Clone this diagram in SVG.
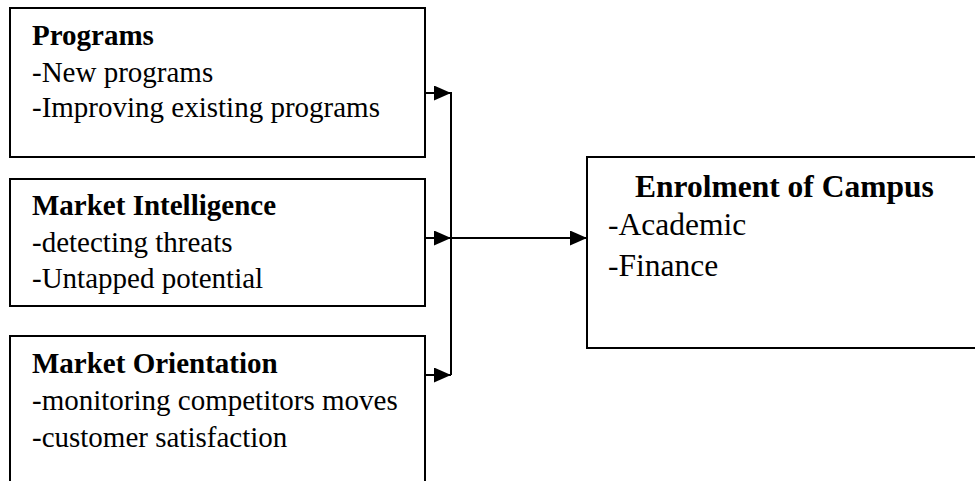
<svg xmlns="http://www.w3.org/2000/svg" width="975" height="481" viewBox="0 0 975 481">
<style>
.box{fill:#fff;stroke:#000;stroke-width:2}
.t{font-family:"Liberation Serif","Times New Roman",serif;font-size:29px;fill:#000}
.b{font-weight:bold}
.r{font-size:31.5px}
.c{fill:none;stroke:#000;stroke-width:2}
</style>
<defs>
<marker id="ah" markerUnits="userSpaceOnUse" markerWidth="17" markerHeight="15" refX="17" refY="7.5" orient="auto" viewBox="0 0 17 15">
<path d="M0,0 L17,7.5 L0,15 z" fill="#000"/>
</marker>
</defs>
<rect width="975" height="481" fill="#fff"/>
<g id="programs">
<rect class="box" x="10" y="8" width="415" height="149"/>
<text class="t b" x="32" y="45">Programs</text>
<text class="t" x="32" y="82">-New programs</text>
<text class="t" x="32" y="117">-Improving existing programs</text>
</g>
<g id="market-intelligence">
<rect class="box" x="10" y="179" width="415" height="127"/>
<text class="t b" x="32" y="215">Market Intelligence</text>
<text class="t" x="32" y="252">-detecting threats</text>
<text class="t" x="32" y="288">-Untapped potential</text>
</g>
<g id="market-orientation">
<rect class="box" x="10" y="336" width="415" height="160"/>
<text class="t b" x="32" y="373">Market Orientation</text>
<text class="t" x="32" y="410">-monitoring competitors moves</text>
<text class="t" x="32" y="447">-customer satisfaction</text>
</g>
<g id="enrolment">
<rect class="box" x="587" y="157" width="400" height="191"/>
<text class="t b r" x="635" y="197">Enrolment of Campus</text>
<text class="t r" x="608" y="235">-Academic</text>
<text class="t r" x="608" y="276">-Finance</text>
</g>
<g id="connectors">
<line class="c" x1="451" y1="92" x2="451" y2="375"/>
<line class="c" x1="425" y1="93" x2="451" y2="93" marker-end="url(#ah)"/>
<line class="c" x1="425" y1="238" x2="451" y2="238" marker-end="url(#ah)"/>
<line class="c" x1="425" y1="375" x2="451" y2="375" marker-end="url(#ah)"/>
<line class="c" x1="451" y1="238" x2="587" y2="238" marker-end="url(#ah)"/>
</g>
</svg>
